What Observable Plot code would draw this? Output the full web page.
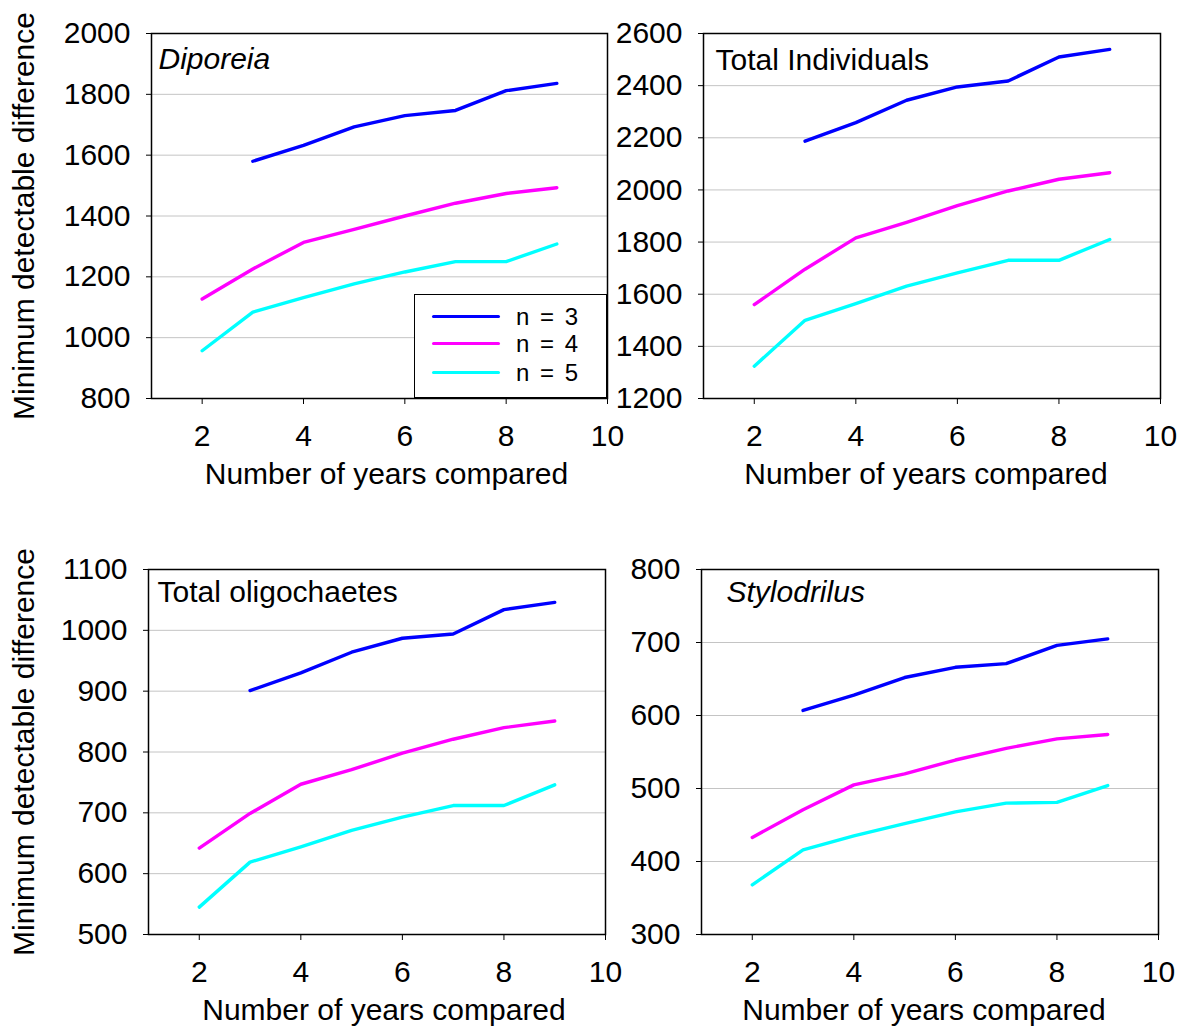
<!DOCTYPE html>
<html><head><meta charset="utf-8">
<script src="https://cdn.jsdelivr.net/npm/d3@7"></script>
<script src="https://cdn.jsdelivr.net/npm/@observablehq/plot@0.6"></script>
<style>
body{margin:0;background:#fff;}
#wrap{position:relative;width:1182px;height:1027px;overflow:hidden;font-family:"Liberation Sans",Arial,sans-serif;background:#fff;}
.legend{position:absolute;left:414px;top:294px;width:193px;height:104px;box-sizing:border-box;border:1.5px solid #000;background:#fff;}
.legend .item{position:absolute;left:17px;height:27px;line-height:27px;display:flex;align-items:center;font-size:24px;letter-spacing:2px;color:#000;}
.legend .sw{width:68px;height:3px;margin-right:16px;border-radius:2px;}
</style></head><body><div id="wrap"></div>
<script>
const years = [2, 3, 4, 5, 6, 7, 8, 9];
const series = ["n = 3", "n = 4", "n = 5"];
const colors = ["#0000ff", "#ff00ff", "#00ffff"];
const xTicks = [2, 4, 6, 8, 10];

const diporeiaN3 = [null, 1580, 1632, 1693, 1730, 1747, 1812, 1836];
const diporeiaN4 = [1127, 1226, 1313, 1356, 1400, 1442, 1474, 1493];
const diporeiaN5 = [957, 1084, 1132, 1177, 1216, 1250, 1250, 1308];
const diporeiaTicks = [800, 1000, 1200, 1400, 1600, 1800, 2000];

const totalIndN3 = [null, 2187, 2258, 2344, 2395, 2418, 2510, 2539];
const totalIndN4 = [1560, 1696, 1816, 1876, 1940, 1996, 2041, 2066];
const totalIndN5 = [1324, 1500, 1564, 1631, 1682, 1730, 1730, 1810];
const totalIndTicks = [1200, 1400, 1600, 1800, 2000, 2200, 2400, 2600];

const oligoN3 = [null, 901, 930, 964, 987, 994, 1034, 1046];
const oligoN4 = [642, 699, 747, 771, 798, 821, 840, 851];
const oligoN5 = [545, 619, 644, 671, 693, 712, 712, 746];
const oligoTicks = [500, 600, 700, 800, 900, 1000, 1100];

const styloN3 = [null, 607, 628, 652, 666, 671, 696, 705];
const styloN4 = [433, 471, 505, 520, 539, 555, 568, 574];
const styloN5 = [368, 416, 435, 452, 468, 480, 481, 504];
const styloTicks = [300, 400, 500, 600, 700, 800];

const xLabel = "Number of years compared";
const yLabel = "Minimum detectable difference";
const FONT = "'Liberation Sans', Arial, sans-serif";
const fmt = d => String(d);

function panel(o) {
  const data = [];
  years.forEach((yr, i) => {
    [o.n3, o.n4, o.n5].forEach((arr, k) => {
      if (arr[i] != null) data.push({year: yr, value: arr[i], series: series[k]});
    });
  });
  const ticks = o.yTicks;
  const marks = [
    Plot.gridY(ticks.slice(1, -1), {stroke: "#c4c4c4", strokeOpacity: 1, strokeWidth: 1}),
    Plot.frame({stroke: "#000", strokeWidth: 1.5}),
    Plot.axisY({ticks: ticks, tickSize: 5, tickPadding: 16, tickFormat: fmt, label: null, fontSize: 30}),
    Plot.axisX({ticks: xTicks, tickSize: 6, tickPadding: 20, tickFormat: fmt, label: null, fontSize: 30}),
    Plot.line(data, {x: "year", y: "value", stroke: "series", z: "series", strokeWidth: 3.4}),
    Plot.text([xLabel], {text: d => d, frameAnchor: "bottom", dy: 64, dx: o.xLabelDx, textAnchor: "middle", lineAnchor: "top", fontSize: 30}),
    Plot.text([o.title], {text: d => d, frameAnchor: "top-left", dx: o.titleDx, dy: o.titleDy, textAnchor: "start", lineAnchor: "top", fontSize: 30, fontStyle: o.italic ? "italic" : "normal"})
  ];
  if (o.showYLabel) {
    marks.push(Plot.text([yLabel], {text: d => d, frameAnchor: "left", rotate: -90, dx: 23.5 - o.mL, textAnchor: "middle", lineAnchor: "middle", fontSize: 30}));
  }
  return Plot.plot({
    width: o.width, height: o.height,
    marginLeft: o.mL, marginRight: o.mR, marginTop: o.mT, marginBottom: o.mB,
    x: {domain: [1, 10]},
    y: {domain: [ticks[0], ticks[ticks.length - 1]]},
    color: {domain: series, range: colors},
    style: {position: "absolute", left: o.left + "px", top: o.top + "px", background: "transparent", overflow: "visible", fontFamily: FONT, fontSize: "30px", color: "#000"},
    marks
  });
}

const wrap = document.getElementById("wrap");
wrap.appendChild(panel({title: "Diporeia", italic: true, n3: diporeiaN3, n4: diporeiaN4, n5: diporeiaN5, yTicks: diporeiaTicks,
  left: 0, top: 0, width: 640, height: 510, mL: 151, mR: 33, mT: 33, mB: 112, showYLabel: true, titleDx: 7, titleDy: 14, xLabelDx: 7}));
wrap.appendChild(panel({title: "Total Individuals", italic: false, n3: totalIndN3, n4: totalIndN4, n5: totalIndN5, yTicks: totalIndTicks,
  left: 560, top: 0, width: 622, height: 510, mL: 143, mR: 22, mT: 33, mB: 112, showYLabel: false, titleDx: 12, titleDy: 15, xLabelDx: -6}));
wrap.appendChild(panel({title: "Total oligochaetes", italic: false, n3: oligoN3, n4: oligoN4, n5: oligoN5, yTicks: oligoTicks,
  left: 0, top: 510, width: 640, height: 517, mL: 148, mR: 35, mT: 59, mB: 93, showYLabel: true, titleDx: 9, titleDy: 11, xLabelDx: 7}));
wrap.appendChild(panel({title: "Stylodrilus", italic: true, n3: styloN3, n4: styloN4, n5: styloN5, yTicks: styloTicks,
  left: 560, top: 510, width: 622, height: 517, mL: 141, mR: 24, mT: 59, mB: 93, showYLabel: false, titleDx: 25, titleDy: 11, xLabelDx: -6}));

// legend
const legend = document.createElement("div");
legend.className = "legend";
const legendTops = [8, 35, 64];
series.forEach((s, i) => {
  const item = document.createElement("div");
  item.className = "item";
  item.style.top = legendTops[i] + "px";
  const sw = document.createElement("span");
  sw.className = "sw";
  sw.style.background = colors[i];
  const t = document.createElement("span");
  t.textContent = s;
  item.appendChild(sw); item.appendChild(t);
  legend.appendChild(item);
});
wrap.appendChild(legend);
</script>
</body></html>
